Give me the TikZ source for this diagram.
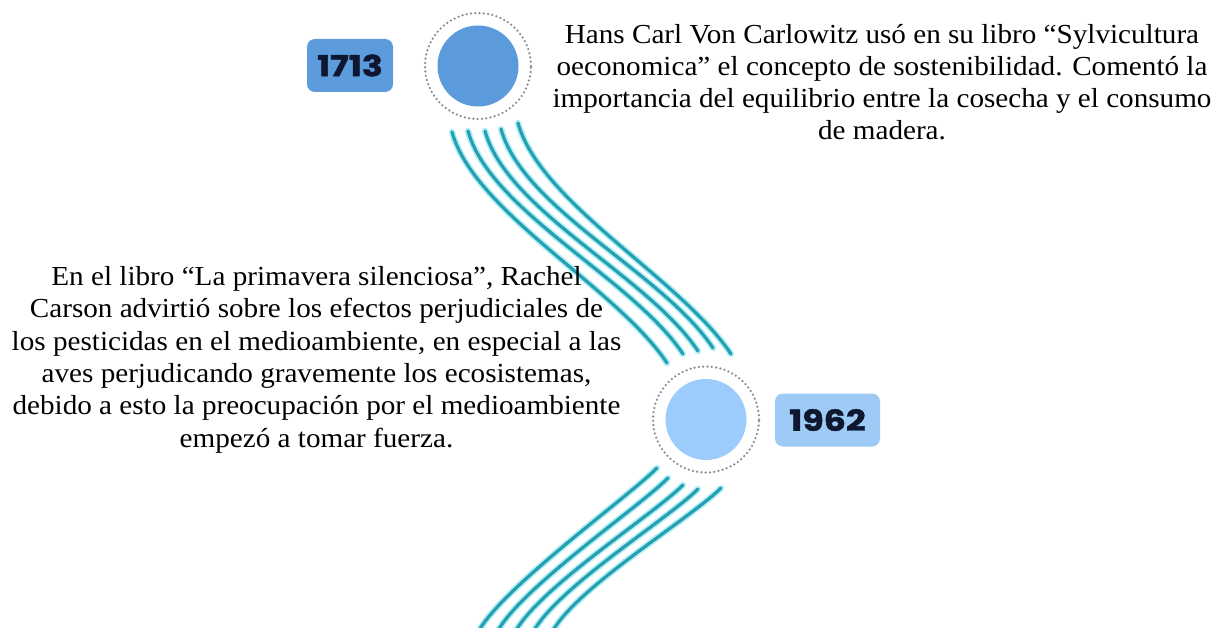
\documentclass[tikz,border=0pt]{standalone}
\usepackage{fontspec}
\setmainfont{Liberation Serif}
\newfontfamily\bodyfont{Liberation Serif}[FakeStretch=1.06]
\newfontfamily\yearfont{Poppins}[BoldFeatures={FakeStretch=1.2,FakeBold=1.5}]
\definecolor{circA}{RGB}{91,155,220}
\definecolor{circB}{RGB}{155,204,252}
\definecolor{boxA}{RGB}{92,155,220}
\definecolor{boxB}{RGB}{157,203,245}
\definecolor{navyc}{RGB}{14,22,48}
\definecolor{ringc}{RGB}{140,136,156}
\definecolor{tealc}{RGB}{36,160,176}
\definecolor{glowc}{RGB}{180,238,247}
\tikzset{
  glowline/.style={line width=6.5pt, draw=glowc, line cap=round},
  waveline/.style={line width=3.2pt, draw=tealc, line cap=round},
  dotring/.style={circle, draw=ringc, line width=2.5pt, dash pattern=on 0pt off 4.3pt, line cap=round, minimum size=106pt, inner sep=0pt},
  dotcirc/.style={circle, minimum size=81pt, inner sep=0pt},
  yearbox/.style={rounded corners=8pt, minimum height=53pt, inner sep=0pt, text=navyc, font=\yearfont\bfseries\fontsize{29}{29}\selectfont},
  toptxt/.style={align=center, inner sep=0pt, text=black, font=\bodyfont\fontsize{27.5}{31.9}\selectfont},
  lefttxt/.style={align=center, inner sep=0pt, text=black, font=\bodyfont\fontsize{27.5}{32.4}\selectfont}
}
\begin{document}
\begin{tikzpicture}[x=1pt,y=-1pt]
\useasboundingbox (0,0) rectangle (1212,628);
\fill[white] (0,0) rectangle (1212,628);

% upper wave lines
\coordinate (ta1) at (452,132); \coordinate (tb1) at (667,363);
\coordinate (ta2) at (468,131); \coordinate (tb2) at (683,354);
\coordinate (ta3) at (485,131); \coordinate (tb3) at (698,351);
\coordinate (ta4) at (501,129); \coordinate (tb4) at (713,348);
\coordinate (ta5) at (518,123); \coordinate (tb5) at (731,354);
% lower wave lines
\coordinate (ba1) at (657,468); \coordinate (bb1) at (478,632);
\coordinate (ba2) at (668,478); \coordinate (bb2) at (497,632);
\coordinate (ba3) at (683,485); \coordinate (bb3) at (515,632);
\coordinate (ba4) at (698,489); \coordinate (bb4) at (533,632);
\coordinate (ba5) at (721,488); \coordinate (bb5) at (552,632);

\foreach \i in {1,...,5}{
  \draw[glowline] (ta\i) .. controls +(22,80) and +(-50,-75) .. (tb\i);
  \draw[glowline] (ba\i) .. controls +(-30,30) and +(25,-45) .. (bb\i);
}
\foreach \i in {1,...,5}{
  \draw[waveline] (ta\i) .. controls +(22,80) and +(-50,-75) .. (tb\i);
  \draw[waveline] (ba\i) .. controls +(-30,30) and +(25,-45) .. (bb\i);
}

% circles
\node[dotcirc, fill=circA] (c1713) at (478,66) {};
\node[dotring] (r1713) at (c1713) {};
\node[dotcirc, fill=circB] (c1962) at (706,419.5) {};
\node[dotring] (r1962) at (c1962) {};

% year boxes
\node[yearbox, fill=boxA, minimum width=86pt] (y1713) at (350,65.5) {1713};
\node[yearbox, fill=boxB, minimum width=105pt] (y1962) at (827.5,420) {1962};

% texts
\node[toptxt, anchor=north] (t1713) at (882,24) {Hans Carl Von Carlowitz usó en su libro “Sylvicultura\\ oeconomica” el concepto de sostenibilidad. Comentó la\\ importancia del equilibrio entre la cosecha y el consumo\\ de madera.};
\node[lefttxt, anchor=north] (t1962) at (316.5,266) {En el libro “La primavera silenciosa”, Rachel\\ Carson advirtió sobre los efectos perjudiciales de\\ los pesticidas en el medioambiente, en especial a las\\ aves perjudicando gravemente los ecosistemas,\\ debido a esto la preocupación por el medioambiente\\ empezó a tomar fuerza.};
\end{tikzpicture}
\end{document}
